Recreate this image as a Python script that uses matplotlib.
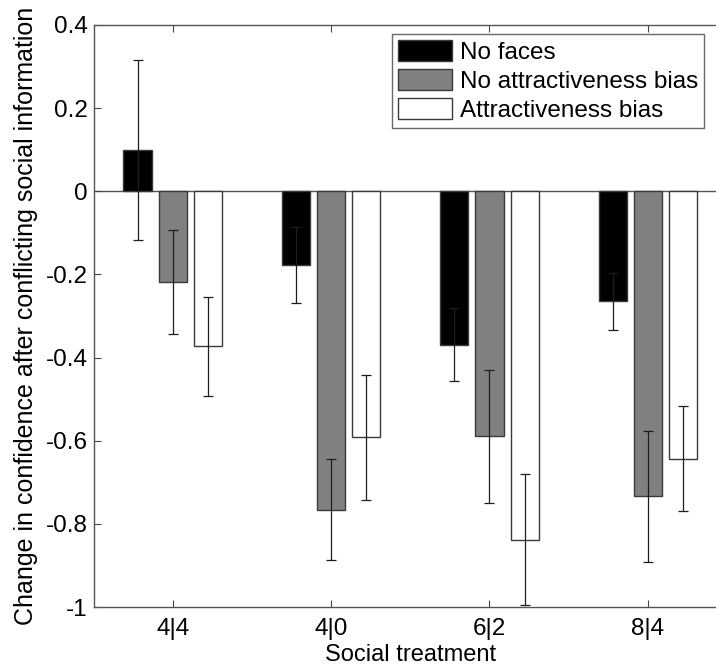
import matplotlib.pyplot as plt
import numpy as np

plt.rcParams["font.family"] = ["Liberation Sans", "DejaVu Sans"]

treatments = ["4|4", "4|0", "6|2", "8|4"]
series = ["No faces", "No attractiveness bias", "Attractiveness bias"]

no_faces = [0.10, -0.177, -0.369, -0.265]
no_faces_err = [0.217, 0.092, 0.088, 0.069]
no_bias = [-0.219, -0.766, -0.589, -0.734]
no_bias_err = [0.125, 0.121, 0.160, 0.157]
bias = [-0.373, -0.592, -0.838, -0.643]
bias_err = [0.119, 0.150, 0.157, 0.127]

values = [no_faces, no_bias, bias]
errors = [no_faces_err, no_bias_err, bias_err]
fills = ["black", "#808080", "white"]
edge = "#3a3a3a"

fig = plt.figure(figsize=(7.16, 6.71), dpi=100)
ax = fig.add_axes([93.5 / 716, 1 - 607 / 671, (727 - 93.5) / 716, (607 - 25) / 671])

x = np.arange(1, len(treatments) + 1)
offset = 0.222
width = 0.178
for i, (vals, errs, fc, name) in enumerate(zip(values, errors, fills, series)):
    pos = x + (i - 1) * offset
    ax.bar(pos, vals, width=width, color=fc, edgecolor=edge, linewidth=1.0, label=name, zorder=2)
    ax.errorbar(pos, vals, yerr=errs, fmt="none", ecolor="#1e1e1e", elinewidth=0.9,
                capsize=3.5, capthick=0.9, zorder=3)

ax.axhline(0, color="#555555", linewidth=1.0, zorder=1)

ax.set_xlim(0.5, 4.5)
ax.set_ylim(-1, 0.4)
ax.set_xticks(x)
ax.set_xticklabels(treatments)
ax.set_yticks([-1, -0.8, -0.6, -0.4, -0.2, 0, 0.2, 0.4])
ax.set_yticklabels(["-1", "-0.8", "-0.6", "-0.4", "-0.2", "0", "0.2", "0.4"])
ax.tick_params(direction="in", top=True, right=True, labelsize=17.5, length=5,
               color="#444444", width=0.8)
ax.tick_params(axis="y", pad=4)
ax.tick_params(axis="x", pad=8)
for s in ax.spines.values():
    s.set_color("#555555")
    s.set_linewidth(1.0)

ax.set_xlabel("Social treatment", fontsize=17, labelpad=3)
ax.set_ylabel("Change in confidence after conflicting social information", fontsize=18, labelpad=6)

leg = ax.legend(loc="upper left", bbox_to_anchor=((392 - 93.5) / (727 - 93.5), 1 - 9 / 582),
                fontsize=17.5, frameon=True, fancybox=False, edgecolor="#444444",
                handlelength=2.2, handleheight=0.95, handletextpad=0.35, labelspacing=0.21,
                borderpad=0.25, borderaxespad=0)
leg.get_frame().set_linewidth(1.0)

fig.savefig("out.png", dpi=100)
